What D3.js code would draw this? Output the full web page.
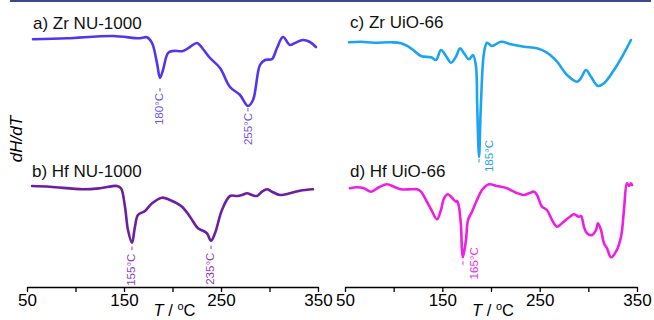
<!DOCTYPE html>
<html><head><meta charset="utf-8">
<script src="https://cdn.jsdelivr.net/npm/d3@7"></script>
<style>body{margin:0;background:#fff}svg{display:block}text{font-family:"Liberation Sans",Arial,sans-serif}</style>
</head><body><svg id="c" width="654" height="320"></svg>
<script>
// ---- data (T in °C, signal in arbitrary units) ----
const tickValues = [50, 100, 150, 200, 250, 300, 350];
const tickLabels = ["50", "", "150", "", "250", "", "350"];
const panelTitles = ["a) Zr NU-1000", "b) Hf NU-1000", "c) Zr UiO-66", "d) Hf UiO-66"];
const peakLabels = [["180°C", "255°C"], ["155°C", "235°C"], ["185°C"], ["165°C"]];
const peakTemps = [[187.1, 277.8], [158.2, 239.7], [187.7], [171.2]];

const zrNuT = [56.2,91.2,138.7,166.5,173.7,178.9,184.0,187.1,190.2,195.4,200.5,210.8,218.0,225.3,231.4,238.7,249.0,259.3,269.6,277.8,283.0,290.2,295.4,302.6,307.7,313.9,321.1,326.3,334.5,341.7,347.9];
const zrNuV = [-9.3,-8.3,-6,-8.3,-7.3,-13,-33,-48,-40,-23,-21,-21,-17,-13,-19,-28,-38,-57,-65,-76,-70,-35,-30,-29,-18,-7,-15,-13,-10,-12,-17];

const hfNuT = [55.2,73.7,107.7,125.3,142.8,146.9,151.0,154.1,158.2,161.3,164.4,171.6,178.9,189.2,197.4,209.8,218.0,226.3,231.4,235.6,239.7,243.8,251.0,259.3,266.5,271.6,276.8,282.0,287.1,292.3,297.4,302.6,310.8,321.1,331.4,344.8];
const hfNuV = [-6,-6.7,-9.3,-8.3,-6,-8.3,-26.7,-50,-62.7,-46.7,-35,-31,-23.3,-17.7,-20,-26.7,-36.7,-48.3,-50.7,-53.3,-60.7,-53.3,-30,-16,-16,-15,-13.3,-15,-16,-11.7,-9.3,-11.7,-15,-13.3,-10.7,-9.3];

const zrUioT = [54.1,66.4,79.8,97.3,107.5,117.8,128.1,138.4,143.5,148.6,153.8,158.9,164.0,168.2,172.3,177.4,181.5,184.6,185.8,187.7,189.6,192.8,195.9,201.0,210.3,220.5,233.9,247.3,257.5,267.8,278.1,288.4,292.5,297.6,302.7,309.9,316.1,326.4,336.6,343.8];
const zrUioV = [-12.3,-11.7,-12.7,-12.3,-13.3,-18.3,-26,-27.3,-30,-20,-26,-32.7,-26.7,-18.3,-23.3,-29.3,-25,-36.7,-75,-127,-75,-23,-12.7,-16,-11.7,-14.3,-16.7,-18.3,-22.7,-31.7,-45,-51.7,-48,-40,-46.7,-56,-53.3,-40,-23.3,-10];

const hfUioT = [55.1,62.3,69.5,76.7,84.9,93.2,100.3,107.5,117.8,124.0,128.1,133.2,138.4,144.5,148.6,151.7,155.8,159.9,164.0,165.1,167.1,169.2,170.2,171.2,174.3,176.4,180.5,185.6,190.8,197.9,206.2,216.4,225.7,233.9,239.0,244.2,247.3,252.4,257.5,262.7,267.8,272.9,282.1,285.2,290.3,292.5,295.5,298.6,303.8,307.9,309.9,313.0,316.1,319.2,323.3,328.4,333.6,336.6,339.7,341.8,343.8,344.9];
const hfUioV = [-8.3,-7.3,-8.3,-11.7,-7.3,-4.3,-6.7,-9.3,-9.3,-9.3,-11.7,-20,-29.3,-39.3,-30,-18.3,-14.3,-17.7,-21.7,-20.7,-26.7,-46.7,-70,-77.3,-60,-40,-31.7,-20,-10,-4.3,-6,-8.3,-12.7,-15,-13.3,-11.7,-15,-26.7,-30,-40,-46.7,-43.3,-36,-34.3,-36.7,-36,-46.7,-53.3,-55,-50,-43.3,-50,-63.3,-68.3,-77.3,-71.7,-56.7,-30,-3.3,-6,-3.3,-5];

const seriesT = [zrNuT, hfNuT, zrUioT, hfUioT];
const seriesV = [zrNuV, hfNuV, zrUioV, hfUioV];

// ---- layout / style ----
const colors = ["#5634ef", "#6c1f9f", "#1ba4ef", "#ef1ee4"];
const labelColors = ["#6a52f2", "#8a3cc0", "#1aa3ee", "#f02ae6"];
const panels = [
  {x0: 27, x1: 318, yTop: 30, title: [33, 29]},
  {x0: 27, x1: 318, yTop: 180, title: [32, 177]},
  {x0: 345, x1: 637, yTop: 30, title: [350, 28]},
  {x0: 345, x1: 637, yTop: 180, title: [350, 177]}
];
// label offsets per panel/peak: [dxText, dashGap, textEndGap]
const labelOffsets = [[[-1, 10, 15], [0, 2, 7]], [[-1, 4, 11], [-1, 5, 12]], [[10, 2, -17]], [[11, 4, -10]]];

const svg = d3.select("#c");
svg.append("line").attr("x1", 10).attr("x2", 651).attr("y1", 1).attr("y2", 1)
  .attr("stroke", "#3b4a8c").attr("stroke-width", 2);

panels.forEach((p, i) => {
  const x = d3.scaleLinear().domain([50, 350]).range([p.x0, p.x1]);
  const y = d3.scaleLinear().domain([0, -130]).range([p.yTop, p.yTop + 130]);
  const pts = seriesT[i].map((t, k) => [t, seriesV[i][k]]);
  const line = d3.line().x(d => x(d[0])).y(d => y(d[1])).curve(d3.curveCatmullRom.alpha(0.5));
  svg.append("path").attr("d", line(pts)).attr("fill", "none")
    .attr("stroke", colors[i]).attr("stroke-width", 2.6).attr("stroke-linejoin", "round").attr("stroke-linecap", "round");
  svg.append("text").attr("x", p.title[0]).attr("y", p.title[1]).attr("font-size", 17).attr("fill", "#111").text(panelTitles[i]);

  peakLabels[i].forEach((lab, j) => {
    const t = peakTemps[i][j];
    const idx = d3.minIndex(seriesT[i], tt => Math.abs(tt - t));
    const px = x(t), py = y(seriesV[i][idx]);
    const off = labelOffsets[i][j];
    svg.append("line").attr("x1", px).attr("x2", px).attr("y1", py + off[1]).attr("y2", py + off[1] + 3.5)
      .attr("stroke", labelColors[i]).attr("stroke-width", 1);
    svg.append("text").attr("transform", `translate(${px + off[0]},${py + off[2]}) rotate(-90)`)
      .attr("text-anchor", "end").attr("dominant-baseline", "central")
      .attr("font-size", 11.5).attr("fill", labelColors[i]).text(lab);
  });

  if (i === 1 || i === 3) {
    const ax = d3.axisBottom(x).tickValues(tickValues).tickFormat((d, k) => tickLabels[k])
      .tickSize(5).tickSizeOuter(0).tickPadding(2);
    const g = svg.append("g").attr("transform", "translate(0,287)").call(ax);
    g.select(".domain").attr("stroke", "#000").attr("stroke-width", 1.3);
    g.selectAll(".tick line").attr("stroke", "#000").attr("stroke-width", 1.3);
    g.selectAll(".tick text").attr("font-size", 17).attr("fill", "#000").attr("font-family", '"Liberation Sans",Arial,sans-serif');
    const tt = svg.append("text").attr("x", (p.x0 + p.x1) / 2 + 2).attr("y", 316).attr("text-anchor", "middle").attr("font-size", 16.5).attr("fill", "#000");
    tt.append("tspan").attr("font-style", "italic").text("T");
    tt.append("tspan").text(" / ");
    tt.append("tspan").attr("font-size", 11).attr("dy", -6).text("o");
    tt.append("tspan").attr("dy", 6).text("C");
  }
});

svg.append("text").attr("transform", "translate(16,139) rotate(-90)").attr("text-anchor", "middle")
  .attr("dominant-baseline", "central").attr("font-size", 17).attr("font-style", "italic").attr("fill", "#000").text("dH/dT");
</script></body></html>
